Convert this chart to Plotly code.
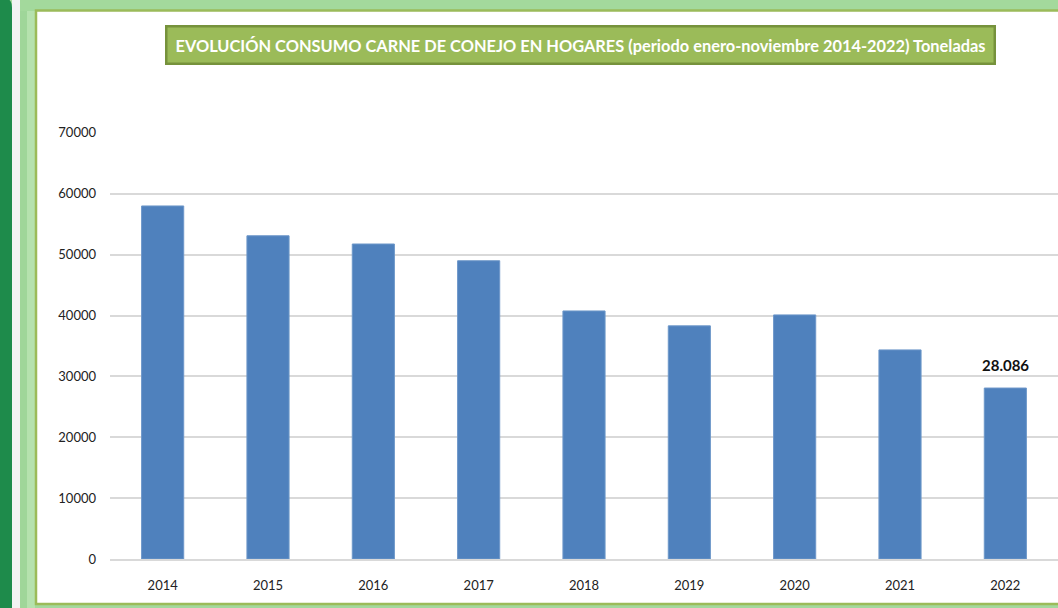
import plotly.graph_objects as go

years = ["2014", "2015", "2016", "2017", "2018", "2019", "2020", "2021", "2022"]
tonnes = [58000, 53100, 51750, 49000, 40750, 38300, 40100, 34350, 28086]
labels = ["", "", "", "", "", "", "", "", "28.086"]
y_ticks = [0, 10000, 20000, 30000, 40000, 50000, 60000, 70000]
title_text = "EVOLUCIÓN CONSUMO CARNE DE CONEJO EN HOGARES (periodo enero-noviembre 2014-2022) Toneladas"

W, H = 1058, 608
YMAX = 70150
ML, MR, MB = 110, 0, 49
PH = round(426 * YMAX / 70000)
MT = H - MB - PH
PW = W - ML - MR

def px(x):
    return (x - ML) / PW

def py(y):
    return (H - MB - y) / PH

FONT = "Lato, sans-serif"

fig = go.Figure()
fig.add_trace(go.Bar(
    x=years, y=tonnes,
    marker=dict(color="#4f81bd", line=dict(color="#6d97c9", width=1)),
    cliponaxis=False, hoverinfo="skip",
))

shapes = []
def rect(x0, y0, x1, y1, fill):
    shapes.append(dict(type="rect", xref="paper", yref="paper",
                       x0=px(x0), x1=px(x1), y0=py(y0), y1=py(y1),
                       fillcolor=fill, line=dict(color=fill, width=0),
                       layer="below"))

rect(-5, -5, W + 5, H + 5, "#a3d99c")
rect(12, -5, 20, H + 5, "#f3f3f3")
rect(20, 11, 27, H + 5, "#9fd699")
rect(27, 11, 35, H + 5, "#b5e2ae")
shapes.append(dict(type="rect", xref="paper", yref="paper",
                   x0=px(36), x1=px(W + 20), y0=py(604), y1=py(10.5),
                   fillcolor="white", line=dict(color="#9bbb59", width=2.5),
                   layer="below"))
path = "M {},{} L {},{} Q {},{} {},{} L {},{} L {},{} Z".format(
    px(0), py(-2), px(4), py(-2), px(12), py(-2), px(12), py(8),
    px(12), py(H + 5), px(0), py(H + 5))
shapes.append(dict(type="path", xref="paper", yref="paper", path=path,
                   fillcolor="#1e8b4b", line=dict(color="#1e8b4b", width=0),
                   layer="below"))

annotations = [dict(
    text="<b>" + title_text + "</b>", xref="paper", yref="paper",
    x=px(580), y=py(45), xanchor="center", yanchor="middle",
    showarrow=False, bgcolor="#9bbb59", bordercolor="#76923c",
    borderwidth=2.5, borderpad=8,
    font=dict(family=FONT, size=16.4, color="white"),
)]
for i, (val, lab) in enumerate(zip(tonnes, labels)):
    if lab:
        annotations.append(dict(
            text="<b>" + lab + "</b>", x=i, y=val, xref="x", yref="y",
            xanchor="center", yanchor="bottom", yshift=12, showarrow=False,
            font=dict(family=FONT, size=15, color="#111111"),
        ))

fig.update_layout(
    width=W, height=H,
    margin=dict(l=ML, r=MR, t=MT, b=MB, pad=0),
    paper_bgcolor="white", plot_bgcolor="rgba(0,0,0,0)",
    bargap=0.6, showlegend=False,
    shapes=shapes, annotations=annotations,
    font=dict(family=FONT, size=13, color="#222222"),
    xaxis=dict(type="category", range=[-0.5, 8.5], showgrid=False,
               showline=True, linecolor="#d9d9d9", linewidth=1.5,
               ticks="", ticklabelstandoff=14,
               tickfont=dict(family=FONT, size=13, color="#222222")),
    yaxis=dict(range=[0, YMAX], tickvals=y_ticks, ticktext=[str(v) for v in y_ticks],
               showgrid=True, gridcolor="#d9d9d9", gridwidth=1.5,
               zeroline=False, showline=False, ticks="", ticklabelstandoff=13,
               tickfont=dict(family=FONT, size=13, color="#222222")),
)

fig.write_html("out.html", config={"displayModeBar": False},
               post_script="document.body.style.margin='0px';")
